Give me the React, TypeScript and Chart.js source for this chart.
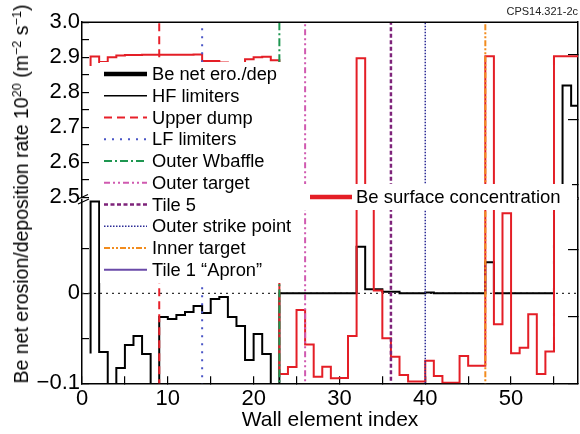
import React, { useEffect, useRef } from 'react';
import { Chart, registerables } from 'chart.js';

Chart.register(...registerables);

// ---------------- Data ----------------
// Right edge of each wall-element bin (bin [k-1, k] carries the value at k)
const elementEdge = [
  1, 2, 3, 4, 5, 6, 7, 8, 9, 10, 11, 12, 13, 14, 15, 16, 17, 18, 19, 20,
  21, 22, 23, 24, 25, 26, 27, 28, 29, 30, 31, 32, 33, 34, 35, 36, 37, 38, 39, 40,
  41, 42, 43, 44, 45, 46, 47, 48, 49, 50, 51, 52, 53, 54, 55, 56, 57, 58,
];

// Be net erosion/deposition rate (10^20 m^-2 s^-1)
const beNetErosion = [
  -0.067, 0.102, -0.0653, -0.13, -0.083, -0.0574, -0.0474, -0.0674, -0.13, -0.0263,
  -0.0285, -0.0241, -0.0208, -0.0141, -0.0219, -0.0063, -0.0041, -0.0263, -0.0363, -0.0741,
  -0.0452, -0.0674, -0.13, 0, 0, 0, 0, 0, 0, 0,
  0, 0, 0.0518, 0.0044, 0.0044, 0.0018, 0.0018, 0, 0, 0,
  0.001, 0, 0, 0, 0, 0, 0, 0.0344, 0, 0,
  0, 0, 0, 0, 0, 1.0, 2.819, 2.761,
];

// Be surface concentration (drawn on the same broken axis)
const beSurfaceConc = [
  2.875, 2.902, 2.886, 2.9, 2.905, 2.906, 2.906, 2.907, 2.907, 2.907,
  2.907, 2.907, 2.907, 2.908, 2.889, 2.889, 2.885, 2.882, 2.882, 2.894,
  2.9, 2.901, 2.891, -0.0897, -0.082, -0.0186, -0.057, -0.0926, -0.0815, -0.0945,
  -0.094, -0.0474, 2.897, 1.5, 0.003, -0.05, -0.0704, -0.0908, -0.098, -0.098,
  -0.0749, -0.092, -0.0993, -0.0993, -0.0697, -0.0804, -0.0804, 2.903, -0.0344, 0.089,
  -0.0667, -0.0604, -0.0233, -0.0897, -0.0648, 2.903, 2.903, 2.903,
];

// Vertical marker lines (wall element index)
const markerNames = ['Upper dump', 'LF limiters', 'Outer Wbaffle', 'Outer target', 'Tile 5', 'Outer strike point', 'Inner target'];
const markerPositions = [9, 14, 23, 26, 36, 40, 47];

const legendLabels = [
  'Be net ero./dep', 'HF limiters', 'Upper dump', 'LF limiters', 'Outer Wbaffle',
  'Outer target', 'Tile 5', 'Outer strike point', 'Inner target', 'Tile 1 \u201CApron\u201D',
];
const surfaceLegendLabel = 'Be surface concentration';

const topTicks = [2.5, 2.6, 2.7, 2.8, 2.9, 3.0];
const bottomTickLabels: Record<string, string> = { '-0.1': '\u22120.1', '0': '0' };

// ---------------- Styles / layout ----------------
const FONT = '"Liberation Sans", Arial, Helvetica, sans-serif';
const STYLE: Record<string, { color: string; width: number; dash: number[] }> = {
  'Be net ero./dep': { color: '#000', width: 4.5, dash: [] },
  'HF limiters': { color: '#000', width: 1.5, dash: [] },
  'Upper dump': { color: '#e8202a', width: 2, dash: [8, 5] },
  'LF limiters': { color: '#4a55c6', width: 2, dash: [2, 6] },
  'Outer Wbaffle': { color: '#1e9650', width: 2, dash: [8, 3, 2, 3] },
  'Outer target': { color: '#d05ab0', width: 2, dash: [6, 3, 2, 3, 2, 3] },
  'Tile 5': { color: '#7e237a', width: 2.5, dash: [4, 2.5] },
  'Outer strike point': { color: '#2c2c96', width: 1.5, dash: [1.5, 1.5] },
  'Inner target': { color: '#f28c1e', width: 2, dash: [6, 2, 2, 2, 2, 2] },
  'Tile 1 \u201CApron\u201D': { color: '#6a4aa8', width: 2, dash: [] },
};
const RED = '#e41e26';

const W = 580;
const H = 434;
const PLOT_LEFT = 82;
const PLOT_RIGHT = 578;
const TOP_AREA = { top: 16.7, bottom: 197.2 };
const BOT_AREA = { top: 199.7, bottom: 383.3 };
const X_MIN = 0;
const X_MAX = 57.8;

const pts = (vals: number[]) => vals.map((v, i) => ({ x: elementEdge[i], y: v }));

function markerDatasets() {
  return markerPositions.map((p, i) => {
    const s = STYLE[markerNames[i]];
    return {
      label: markerNames[i],
      data: [{ x: p, y: -1 }, { x: p, y: 4 }],
      borderColor: s.color,
      borderWidth: s.width,
      borderDash: s.dash,
      pointRadius: 0,
      order: 0,
    };
  });
}

function seriesDatasets() {
  return [
    {
      label: surfaceLegendLabel,
      data: pts(beSurfaceConc),
      borderColor: RED,
      borderWidth: 2,
      stepped: 'after',
      pointRadius: 0,
      order: 1,
    },
    {
      label: 'Be net ero./dep',
      data: pts(beNetErosion),
      borderColor: '#000',
      borderWidth: 2,
      stepped: 'after',
      pointRadius: 0,
      order: 2,
    },
  ];
}

const inwardGrid = (len: number) => ({
  drawOnChartArea: false,
  drawTicks: true,
  tickLength: -len,
  color: '#000',
  lineWidth: 1.2,
});
const axisBorder = { display: true, color: '#000', width: 1.5 };

const overlayPlugin = {
  id: 'overlay',
  afterDraw(chart: any) {
    const { ctx, chartArea: a } = chart;
    ctx.save();
    ctx.strokeStyle = '#000';
    ctx.lineWidth = 1.5;
    ctx.setLineDash([]);
    // top frame
    ctx.beginPath();
    ctx.moveTo(a.left, a.top);
    ctx.lineTo(a.right, a.top);
    ctx.stroke();
    // right frame across the break
    ctx.beginPath();
    ctx.moveTo(a.right, a.bottom);
    ctx.lineTo(a.right, BOT_AREA.top);
    ctx.stroke();
    // break marks on left axis
    ctx.lineWidth = 1.2;
    ctx.beginPath();
    ctx.moveTo(77, 199.5);
    ctx.lineTo(88, 194.5);
    ctx.moveTo(78, 204);
    ctx.lineTo(89, 199);
    ctx.stroke();

    // main legend box
    ctx.fillStyle = '#fff';
    ctx.fillRect(100, 62, 200, 221);
    ctx.font = `18.3px ${FONT}`;
    ctx.textBaseline = 'middle';
    ctx.textAlign = 'left';
    legendLabels.forEach((lab, i) => {
      const y = 74 + i * 21.75;
      const s = STYLE[lab];
      ctx.save();
      ctx.strokeStyle = s.color;
      ctx.lineWidth = s.width;
      ctx.setLineDash(s.dash);
      ctx.beginPath();
      ctx.moveTo(104, y);
      ctx.lineTo(147, y);
      ctx.stroke();
      ctx.restore();
      ctx.fillStyle = '#000';
      ctx.fillText(lab, 152, y + 1);
    });

    // surface concentration legend
    ctx.fillStyle = '#fff';
    ctx.fillRect(302, 184, 270, 26);
    ctx.strokeStyle = RED;
    ctx.lineWidth = 4.5;
    ctx.setLineDash([]);
    ctx.beginPath();
    ctx.moveTo(310, 197);
    ctx.lineTo(352, 197);
    ctx.stroke();
    ctx.fillStyle = '#000';
    ctx.font = `18.5px ${FONT}`;
    ctx.fillText(surfaceLegendLabel, 356, 198);

    // figure id
    ctx.font = `11px ${FONT}`;
    ctx.textAlign = 'right';
    ctx.textBaseline = 'alphabetic';
    ctx.fillStyle = '#222';
    ctx.fillText('CPS14.321-2c', 578, 14.5);
    ctx.restore();
  },
};

function makeBottomConfig(): any {
  return {
    type: 'line',
    data: {
      datasets: [
        ...markerDatasets(),
        ...seriesDatasets(),
        {
          label: 'zero',
          data: [{ x: X_MIN, y: 0 }, { x: X_MAX, y: 0 }],
          borderColor: '#333',
          borderWidth: 1.2,
          borderDash: [2, 4],
          pointRadius: 0,
          order: 3,
        },
      ],
    },
    options: {
      animation: false,
      responsive: false,
      maintainAspectRatio: false,
      events: [],
      layout: { padding: { top: BOT_AREA.top, left: 0, right: 0, bottom: 0 } },
      plugins: { legend: { display: false }, tooltip: { enabled: false }, title: { display: false } },
      scales: {
        x: {
          type: 'linear',
          position: 'bottom',
          min: X_MIN,
          max: X_MAX,
          border: axisBorder,
          grid: inwardGrid(7),
          ticks: {
            stepSize: 5,
            autoSkip: false,
            maxRotation: 0,
            includeBounds: false,
            padding: 9,
            color: '#000',
            font: { size: 22, family: FONT },
            callback: (v: number) => (Math.round(v) % 10 === 0 ? String(Math.round(v)) : ''),
          },
          title: {
            display: true,
            text: 'Wall element index',
            color: '#000',
            font: { size: 21, family: FONT },
            padding: { top: 0, bottom: 1 },
          },
          afterFit: (s: any) => {
            s.height = H - BOT_AREA.bottom;
          },
        },
        y: {
          type: 'linear',
          position: 'left',
          min: -0.1,
          max: 0.104,
          border: axisBorder,
          grid: inwardGrid(7),
          ticks: {
            stepSize: 0.05,
            autoSkip: false,
            includeBounds: false,
            padding: 9,
            color: '#000',
            font: { size: 22, family: FONT },
            callback: (v: number) => {
              const key = String(Math.round(v * 100) / 100);
              return bottomTickLabels[key] ?? '';
            },
          },
          afterBuildTicks: (s: any) => {
            s.ticks = s.ticks.filter((t: any) => t.value < 0.08);
          },
          afterFit: (s: any) => {
            s.width = PLOT_LEFT;
          },
        },
        y2: {
          type: 'linear',
          position: 'right',
          min: 0,
          max: 2.75,
          border: axisBorder,
          grid: inwardGrid(10),
          ticks: { display: false, stepSize: 1, autoSkip: false, includeBounds: false },
          afterFit: (s: any) => {
            s.width = W - PLOT_RIGHT;
          },
        },
      },
    },
  };
}

function makeTopConfig(): any {
  return {
    type: 'line',
    data: { datasets: [...markerDatasets(), ...seriesDatasets()] },
    options: {
      animation: false,
      responsive: false,
      maintainAspectRatio: false,
      events: [],
      layout: { padding: { top: TOP_AREA.top, left: 0, right: 0, bottom: H - TOP_AREA.bottom } },
      plugins: { legend: { display: false }, tooltip: { enabled: false }, title: { display: false } },
      scales: {
        x: { type: 'linear', display: false, min: X_MIN, max: X_MAX },
        y: {
          type: 'linear',
          position: 'left',
          min: 2.5,
          max: 3.0,
          border: axisBorder,
          grid: inwardGrid(7),
          ticks: {
            stepSize: 0.05,
            autoSkip: false,
            includeBounds: false,
            padding: 9,
            color: '#000',
            font: { size: 22, family: FONT },
            callback: (v: number) => {
              const m = topTicks.find((t) => Math.abs(t - v) < 1e-6);
              return m === undefined ? '' : m.toFixed(1);
            },
          },
          afterFit: (s: any) => {
            s.width = PLOT_LEFT;
          },
        },
        y2: {
          type: 'linear',
          position: 'right',
          min: 2.8,
          max: 5.5,
          border: axisBorder,
          grid: inwardGrid(10),
          ticks: { display: false, stepSize: 1, autoSkip: false, includeBounds: false },
          afterFit: (s: any) => {
            s.width = W - PLOT_RIGHT;
          },
        },
      },
    },
    plugins: [overlayPlugin],
  };
}

export default function App() {
  const topRef = useRef<HTMLCanvasElement>(null);
  const botRef = useRef<HTMLCanvasElement>(null);

  useEffect(() => {
    Chart.defaults.font.family = FONT;
    Chart.defaults.color = '#000';
    const bottom = new Chart(botRef.current as HTMLCanvasElement, makeBottomConfig());
    const top = new Chart(topRef.current as HTMLCanvasElement, makeTopConfig());
    return () => {
      top.destroy();
      bottom.destroy();
    };
  }, []);

  const sup: React.CSSProperties = { fontSize: '0.65em', verticalAlign: '0.55em', lineHeight: 0 };

  return (
    <div style={{ position: 'absolute', left: 0, top: 0, width: W, height: H, background: '#fff', overflow: 'hidden' }}>
      <canvas ref={botRef} width={W} height={H} style={{ position: 'absolute', left: 0, top: 0, width: W, height: H }} />
      <canvas ref={topRef} width={W} height={H} style={{ position: 'absolute', left: 0, top: 0, width: W, height: H }} />
      <div
        style={{
          position: 'absolute',
          left: 21,
          top: 194,
          transform: 'translate(-50%, -50%) rotate(-90deg)',
          whiteSpace: 'nowrap',
          fontFamily: FONT,
          fontSize: 19.5,
          lineHeight: '22px',
          color: '#000',
        }}
      >
        Be net erosion/deposition rate 10<span style={sup}>20</span> (m<span style={sup}>{'\u2212'}2</span> s<span style={sup}>{'\u2212'}1</span>)
      </div>
    </div>
  );
}
